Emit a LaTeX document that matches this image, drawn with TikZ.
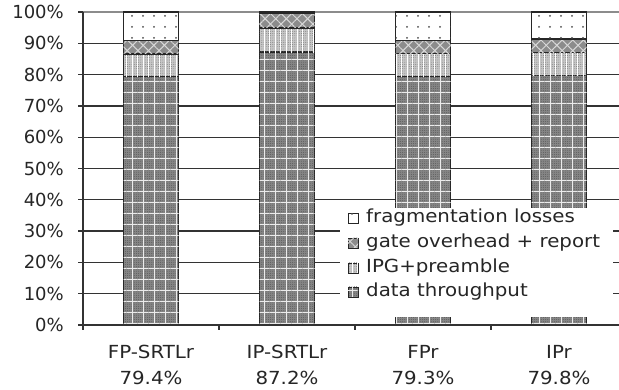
\documentclass[tikz,border=0pt]{standalone}
\usepackage{fontspec}
\setmainfont{DejaVu Sans}
\newfontfamily\widesans[FakeStretch=1.1]{DejaVu Sans}
\usetikzlibrary{patterns,patterns.meta}
\tikzset{
  x=1pt,y=-1pt,
  lbl/.style={font=\fontsize{18}{20}\selectfont, text=black!85, inner sep=0pt},
  wlbl/.style={font=\widesans\fontsize{18}{20}\selectfont, text=black!85, inner sep=0pt},
  grid line/.style={line width=1.3pt, draw=black!80},
  seg/.style={draw=black!85, line width=1.2pt},
  datafill/.style={fill=black!48,
    postaction={pattern={Dots[distance=2.2pt,radius=0.4pt]}, pattern color=black!70},
    postaction={pattern={Lines[distance=11pt,angle=0,line width=1pt]}, pattern color=white!92!black},
    postaction={pattern={Lines[distance=11pt,angle=90,line width=1pt]}, pattern color=white!92!black}},
  ipgfill/.style={fill=black!22,
    postaction={pattern={Dots[distance=2.2pt,radius=0.45pt]}, pattern color=black!55},
    postaction={pattern={Lines[distance=5.5pt,angle=90,line width=0.7pt]}, pattern color=white}},
  gatefill/.style={fill=black!45,
    postaction={pattern={Lines[distance=7.5pt,angle=45,line width=1pt]}, pattern color=white!85!black},
    postaction={pattern={Lines[distance=7.5pt,angle=-45,line width=1pt]}, pattern color=white!85!black}},
  fragfill/.style={fill=white,
    postaction={pattern={Dots[distance=11pt,radius=1pt]}, pattern color=black!70}},
}
% percentage -> vertical position
\newcommand{\pv}[1]{{325-3.13*(#1)}}
% \segment{centre x}{from}{to}{style}
\newcommand{\segment}[4]{\path[seg,#4] (#1-27.5,\pv{#2}) rectangle (#1+27.5,\pv{#3});}
\begin{document}
\begin{tikzpicture}
\useasboundingbox (0,0) rectangle (619,390);
\fill[white] (0,0) rectangle (619,390);

% horizontal grid lines
\foreach \p in {10,20,...,90}
  \draw[grid line] (83,\pv{\p}) -- (619,\pv{\p});
\draw[line width=1.3pt, draw=black!45] (83,\pv{100}) -- (619,\pv{100});

% y axis, ticks and labels
\coordinate (ybot) at (83,330);
\coordinate (ytop) at (83,\pv{100});
\draw[grid line] (ybot) -- (ytop);
\foreach \p in {0,10,...,100} {
  \draw[grid line] (78,\pv{\p}) -- (83,\pv{\p});
  \node[lbl, anchor=east] (yl\p) at (64,\pv{\p}) {\p\%};
}

% stacked bars
\foreach \c/\a/\b/\g in {151/79.4/86.6/90.8, 287/87.2/94.9/99.4, 423/79.3/86.8/91.0, 559/79.8/87.1/91.4} {
  \segment{\c}{0}{\a}{datafill}
  \segment{\c}{\a}{\b}{ipgfill}
  \segment{\c}{\b}{\g}{gatefill}
  \segment{\c}{\g}{100}{fragfill}
}

% x axis and ticks
\coordinate (xl) at (83,\pv{0});
\coordinate (xr) at (619,\pv{0});
\draw[grid line] (xl) -- (xr);
\foreach \t in {219,355,491}
  \draw[grid line] (\t,\pv{0}) -- (\t,330);

% category labels
\foreach \c/\n/\v [count=\i] in {151/FP-SRTLr/79.4, 287/IP-SRTLr/87.2, 423/FPr/79.3, 559/IPr/79.8} {
  \node[wlbl] (cat\i) at (\c,352) {\n};
  \node[wlbl] (val\i) at (\c,378) {\v\%};
}

% legend
\fill[white] (340,208) rectangle (613,317);
\foreach \s/\t/\y [count=\i] in {fragfill/fragmentation losses/218, gatefill/gate overhead + report/243, ipgfill/IPG+preamble/268, datafill/data throughput/292} {
  \path[draw=black!85, line width=0.9pt, \s] (348,\y-5) rectangle (358,\y+5);
  \node[wlbl, anchor=west] (leg\i) at (366,\y) {\t};
}
\end{tikzpicture}
\end{document}
